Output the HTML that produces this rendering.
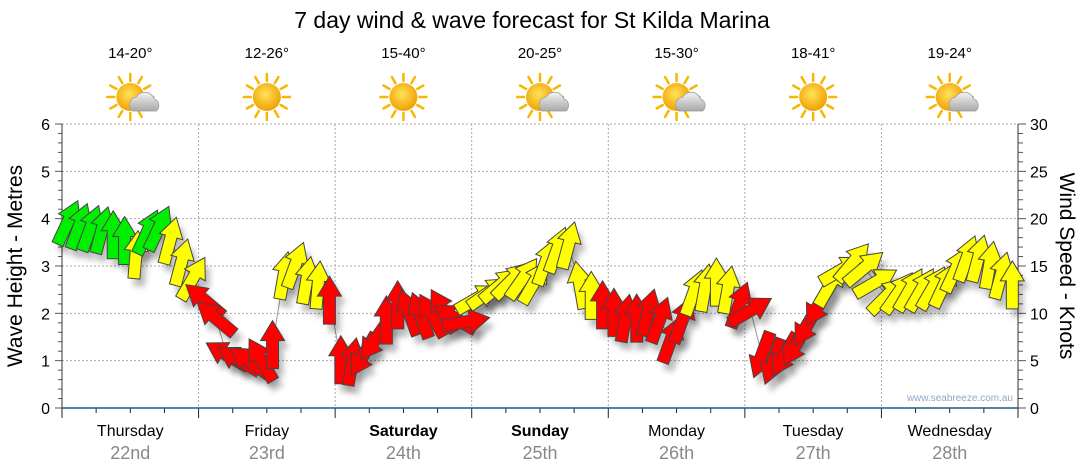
<!DOCTYPE html>
<html><head><meta charset="utf-8"><style>
body{margin:0;background:#fff;}
svg{display:block;font-family:"Liberation Sans",Arial,sans-serif;}
</style></head><body>
<svg id="chart" width="1080" height="475" viewBox="0 0 1080 475">
<defs>
<filter id="sh" x="-50%" y="-50%" width="200%" height="200%"><feGaussianBlur stdDeviation="3"/></filter>
<radialGradient id="sun" cx="45%" cy="40%" r="60%"><stop offset="0" stop-color="#ffe25a"/><stop offset="1" stop-color="#f0a000"/></radialGradient>
<linearGradient id="cld" x1="0" y1="0" x2="0" y2="1"><stop offset="0" stop-color="#f4f4f4"/><stop offset="1" stop-color="#a8a8a8"/></linearGradient>
</defs>
<text x="532" y="28" text-anchor="middle" font-size="23" fill="#000">7 day wind &amp; wave forecast for St Kilda Marina</text>
<g id="grid"></g><g id="axes"></g><g id="days"></g><g id="shadows"></g><g id="arrows"></g>
<text x="1013" y="401" text-anchor="end" font-size="10" fill="#8fa8c8">www.seabreeze.com.au</text>
<text transform="translate(22,266) rotate(-90)" text-anchor="middle" font-size="21" fill="#000">Wave Height - Metres</text>
<text transform="translate(1060,266) rotate(90)" text-anchor="middle" font-size="21" fill="#000">Wind Speed - Knots</text>
</svg>
<script>
const dayNames=["Thursday","Friday","Saturday","Sunday","Monday","Tuesday","Wednesday"];
const dayDates=["22nd","23rd","24th","25th","26th","27th","28th"];
const temps=["14-20°","12-26°","15-40°","20-25°","15-30°","18-41°","19-24°"];
const icons=["cloud","sun","sun","cloud","cloud","sun","cloud"];
const leftTicks=[0,1,2,3,4,5,6];
const rightTicks=[0,5,10,15,20,25,30];
// wind speed (knots), every 2 hours
const windSpeed=[19.6,19.2,19.0,18.8,18.3,17.7,16.2,18.6,19.0,17.7,15.4,13.7,
11.4,9.5,5.6,5.1,4.9,5.1,6.7,14,15.1,13.5,13,11.4,
5.1,4.9,5.6,7.2,9.3,10.9,10.1,9.8,9.8,10.3,9.5,9.1,
11.6,12.2,13,13.5,13.7,13.3,15.4,16.7,17.2,13,11.9,10.9,
10.1,9.5,9.5,10.1,9.3,7.2,9.3,12.2,12.7,13.3,12.5,10.9,
10.3,5.6,4.9,5.6,6.7,8.8,10.9,13,14.6,15.4,14.8,13.3,
11.9,12.2,12.5,12.5,12.7,13,14.6,15.8,15.8,15.1,14,13];
// arrow direction (degrees clockwise from up)
const windDir=[25,20,20,15,0,0,5,25,25,15,15,30,
-50,-50,-60,-60,-55,-30,0,10,20,10,5,0,
0,10,210,215,0,0,340,340,330,330,300,80,
60,55,50,45,35,30,20,20,15,-10,0,0,
0,10,0,15,20,20,20,20,10,0,10,20,
60,200,200,210,210,210,210,30,60,40,50,60,
45,35,30,30,30,25,25,20,15,10,15,0];
// colour category: g=green, y=yellow, r=red
const windCat=["g","g","g","g","g","g","y","g","g","y","y","y",
"r","r","r","r","r","r","r","y","y","y","y","r",
"r","r","r","r","r","r","r","r","r","r","r","r",
"y","y","y","y","y","y","y","y","y","y","y","r",
"r","r","r","r","r","r","r","y","y","y","y","r",
"r","r","r","r","r","r","r","y","y","y","y","y",
"y","y","y","y","y","y","y","y","y","y","y","y"];
const NS="http://www.w3.org/2000/svg";
const X0=62,X1=1018,Y0=408,Y1=124;
const xDay=d=>X0+(X1-X0)*d/7;
const yM=m=>Y0-(Y0-Y1)*m/6;
const yK=k=>Y0-(Y0-Y1)*k/30;
function mk(tag,attrs,parent){const e=document.createElementNS(NS,tag);for(const k in attrs)e.setAttribute(k,attrs[k]);parent.appendChild(e);return e;}
const grid=document.getElementById('grid'),axes=document.getElementById('axes'),days=document.getElementById('days');
leftTicks.forEach(t=>{if(t>0){const l=mk('line',{x1:X0,x2:X1,y1:yM(t),y2:yM(t),stroke:'#aaa','stroke-dasharray':'2,2'},grid);

}
const tx=mk('text',{x:X0-12,y:yM(t)+6,'text-anchor':'end','font-size':16,fill:'#000'},axes);tx.textContent=t;


});
for(let i=0;i<=30;i++){const y=Y0-(Y0-Y1)*i/30;mk('line',{x1:X0-(i%5?4:7),x2:X0,y1:y,y2:y,stroke:'#555'},axes);mk('line',{x1:X1,x2:X1+(i%5?5:8),y1:y,y2:y,stroke:'#555'},axes);}
rightTicks.forEach(t=>{const tx=mk('text',{x:X1+12,y:yK(t)+6,'font-size':16,fill:'#000'},axes);tx.textContent=t;

});
mk('line',{x1:X0,x2:X0,y1:Y1,y2:Y0,stroke:'#333'},axes);
mk('line',{x1:X1,x2:X1,y1:Y1,y2:Y0,stroke:'#333'},axes);
for(let d=1;d<7;d++){const l=mk('line',{x1:xDay(d),x2:xDay(d),y1:Y1,y2:Y0,stroke:'#aaa','stroke-dasharray':'2,2'},grid);

}
for(let q=0;q<=28;q++){const x=X0+(X1-X0)*q/28;mk('line',{x1:x,x2:x,y1:Y0,y2:Y0+(q%4?5:10),stroke:'#222'},axes);}
const xl=mk('line',{x1:X0,x2:X1,y1:Y0,y2:Y0,stroke:'#1a5a8a','stroke-width':1.5},axes);


dayNames.forEach((n,d)=>{const cx=xDay(d+0.5);
const t=mk('text',{x:cx,y:436,'text-anchor':'middle','font-size':16,fill:'#000','font-weight':(d==2||d==3)?'bold':'normal'},days);t.textContent=n;


const t2=mk('text',{x:cx,y:459,'text-anchor':'middle','font-size':18,fill:'#888'},days);t2.textContent=dayDates[d];


const t3=mk('text',{x:cx,y:58,'text-anchor':'middle','font-size':15,fill:'#000'},days);t3.textContent=temps[d];


const g=mk('g',{transform:`translate(${cx},97)`},days);


for(let r=0;r<12;r++){const a=r*Math.PI/6;mk('line',{x1:Math.cos(a)*16,y1:Math.sin(a)*16,x2:Math.cos(a)*23,y2:Math.sin(a)*23,stroke:'#f5b800','stroke-width':2.5,'stroke-linecap':'round'},g);}
mk('circle',{cx:0,cy:0,r:14,fill:'url(#sun)'},g);
if(icons[d]=='cloud'){mk('path',{d:'M2,14 a8,8 0 0 1 4,-14 a10,10 0 0 1 18,2 a7,7 0 0 1 2,12 z',fill:'url(#cld)',stroke:'#999','stroke-width':0.7},g);}
});
// connector line
let pts=windSpeed.map((k,i)=>`${X0+(X1-X0)*(i+0.5)/84},${yK(k)}`).join(' ');
mk('polyline',{points:pts,fill:'none',stroke:'#999','stroke-width':1},document.getElementById('shadows'));
const shapeD='M-6,24 L6,24 L6,-4 L12,-4 L0,-24 L-12,-4 L-6,-4 Z';
const cols={g:'#00ee00',y:'#ffff00',r:'#ff0000'};
const sh=document.getElementById('shadows'),ar=document.getElementById('arrows');
windSpeed.forEach((k,i)=>{const x=X0+(X1-X0)*(i+0.5)/84,y=yK(k);
const s=mk('path',{d:shapeD,transform:`translate(${x+5},${y+8}) rotate(${windDir[i]})`,fill:'#000','fill-opacity':0.25,filter:'url(#sh)'},sh);


const a=mk('path',{d:shapeD,transform:`translate(${x},${y}) rotate(${windDir[i]})`,fill:cols[windCat[i]],stroke:'#444','stroke-width':1},ar);


});
</script>
</body></html>
